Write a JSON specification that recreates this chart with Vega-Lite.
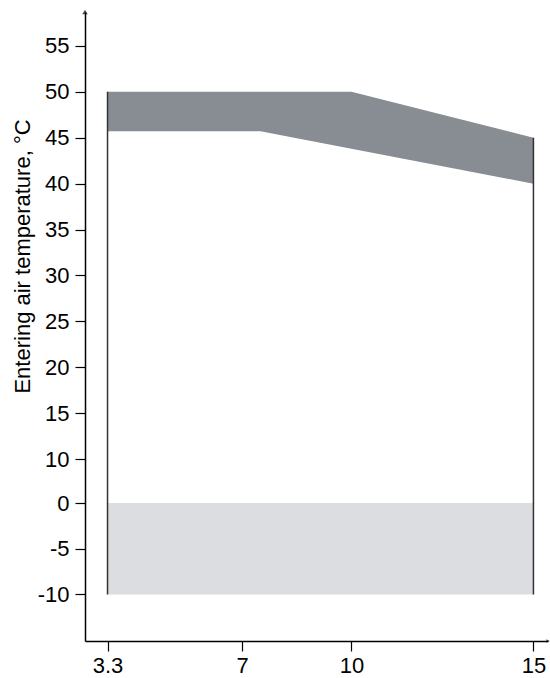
{
  "$schema": "https://vega.github.io/schema/vega-lite/v6.json",
  "autosize": "none",
  "width": 463,
  "height": 629,
  "padding": {"left": 85, "top": 12, "right": 2, "bottom": 37},
  "background": "white",
  "config": {
    "view": {"stroke": null},
    "font": "Liberation Sans",
    "axis": {
      "domainColor": "black",
      "domainWidth": 1.5,
      "tickColor": "black",
      "tickWidth": 1.2,
      "tickSize": 10,
      "grid": false,
      "labelColor": "black",
      "labelFont": "Liberation Sans",
      "labelFontSize": 22,
      "titleFont": "Liberation Sans",
      "titleFontWeight": "normal",
      "titleColor": "black"
    }
  },
  "datasets": {
    "upper": [
      {"x": 3.3, "lo": 45.7, "hi": 50},
      {"x": 7.5, "lo": 45.7, "hi": 50},
      {"x": 10, "lo": 43.8, "hi": 50},
      {"x": 15, "lo": 40, "hi": 45}
    ],
    "lower": [
      {"x": 3.3, "x2": 15, "lo": -10, "hi": 0}
    ],
    "edges": [
      {"x": 3.3, "lo": -10, "hi": 50},
      {"x": 15, "lo": -10, "hi": 45}
    ]
  },
  "layer": [
    {
      "data": {"name": "lower"},
      "mark": {"type": "rect", "color": "#dcdde1"},
      "encoding": {
        "x": {"field": "x", "type": "quantitative", "scale": {"domain": [2.681, 15.4], "nice": false, "zero": false},
          "axis": {"values": [3.3, 7, 10, 15], "title": null, "labelPadding": 4, "format": ".2~f"}},
        "x2": {"field": "x2"},
        "y": {"field": "lo", "type": "quantitative",
          "scale": {"domain": [-15.1, 0, 10, 58.7], "range": [629, 491, 447, 0], "nice": false, "zero": false},
          "axis": {"values": [-10, -5, 0, 10, 15, 20, 25, 30, 35, 40, 45, 50, 55],
            "labelExpr": "datum.value < 0 ? '-' + abs(datum.value) : '' + datum.value",
            "title": "Entering air temperature, °C", "titleFontSize": 22,
            "titleAngle": -90, "titleAlign": "center", "titleBaseline": "alphabetic",
            "titleX": -56, "titleY": 244, "labelPadding": 6}},
        "y2": {"field": "hi"}
      }
    },
    {
      "data": {"name": "upper"},
      "mark": {"type": "area", "color": "#878d93", "opacity": 1},
      "encoding": {
        "x": {"field": "x", "type": "quantitative"},
        "y": {"field": "lo", "type": "quantitative"},
        "y2": {"field": "hi"}
      }
    },
    {
      "data": {"name": "edges"},
      "mark": {"type": "rule", "color": "#333333", "strokeWidth": 1.5},
      "encoding": {
        "x": {"field": "x", "type": "quantitative"},
        "y": {"field": "lo", "type": "quantitative"},
        "y2": {"field": "hi"}
      }
    },
    {
      "data": {"values": [{"x": 2.681, "y": 58.7}]},
      "mark": {"type": "point", "shape": "triangle-up", "filled": true, "color": "black", "size": 30},
      "encoding": {
        "x": {"field": "x", "type": "quantitative"},
        "y": {"field": "y", "type": "quantitative"}
      }
    },
    {
      "data": {"values": [{"x": 15.4, "y": -15.1}]},
      "mark": {"type": "point", "shape": "triangle-right", "filled": true, "color": "black", "size": 14},
      "encoding": {
        "x": {"field": "x", "type": "quantitative"},
        "y": {"field": "y", "type": "quantitative"}
      }
    }
  ]
}
